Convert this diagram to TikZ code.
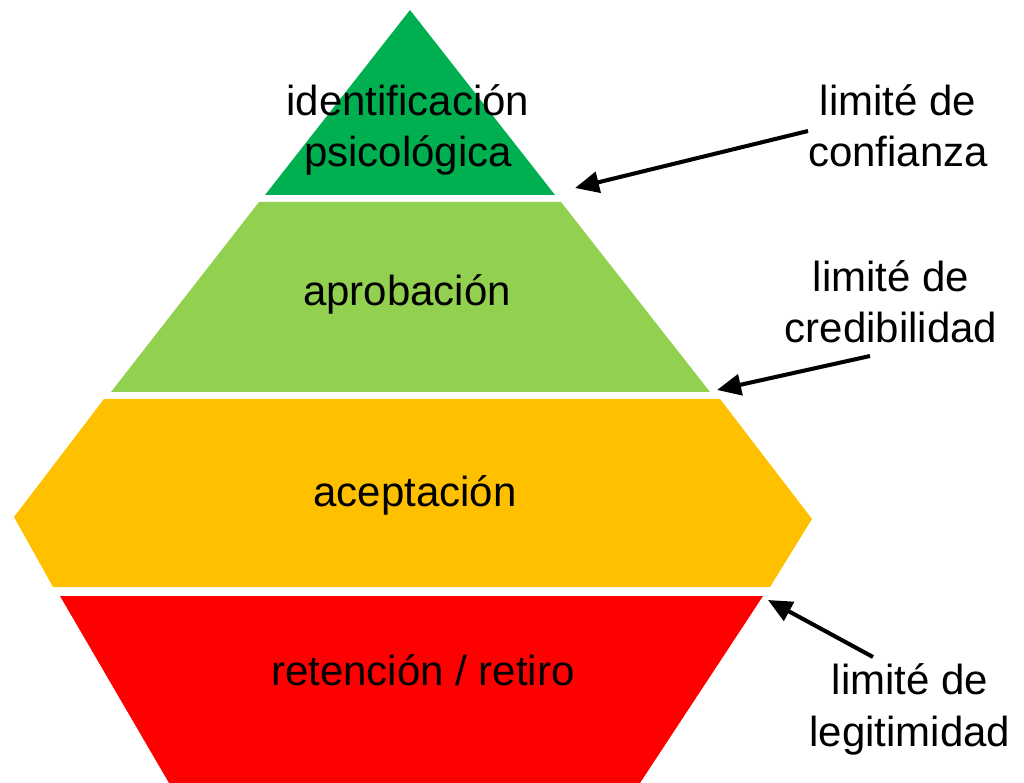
\documentclass[tikz,border=0pt]{standalone}
\usepackage{fontspec}
\setmainfont{Liberation Sans}
\usetikzlibrary{arrows.meta}

\definecolor{topgreen}{HTML}{00B050}
\definecolor{lightgreen}{HTML}{92D050}
\definecolor{amber}{HTML}{FFC000}
\definecolor{brightred}{HTML}{FF0000}

\begin{document}
\begin{tikzpicture}[x=0.02cm,y=-0.02cm,
  lbl/.style={font=\fontsize{23.9}{29.5}\selectfont, inner sep=0pt, align=center, anchor=base},
  pointer/.style={line width=2.3pt, -{Triangle[length=0.48cm,width=0.42cm]}}]
\useasboundingbox (0,0) rectangle (1024,783);
% bands of the pyramid
\fill[topgreen] (410,10) -- (555,195) -- (265,195) -- cycle;
\fill[lightgreen] (259,202) -- (561,202) -- (710,392) -- (111,392) -- cycle;
\fill[amber] (104,399) -- (720,399) -- (812,519) -- (770,587) -- (53,587) -- (14,517) -- cycle;
\fill[brightred] (60,596) -- (763,596) -- (640,783) -- (169,783) -- cycle;
% level names
\node[lbl] (ident) at (408,167) {identificación\\psicológica};
\node[lbl] (aprob) at (407,306) {aprobación};
\node[lbl] (acept) at (415,506) {aceptación};
\node[lbl] (reten) at (423,685) {retención / retiro};
% limits
\node[lbl] (conf) at (898,167) {limité de\\confianza};
\node[lbl] (cred) at (891,343) {limité de\\credibilidad};
\node[lbl] (legit) at (910,746) {limité de\\legitimidad};
\coordinate (conftail) at (808,131);
\coordinate (conftip) at (575,188);
\coordinate (credtail) at (870,356);
\coordinate (credtip) at (717,390);
\coordinate (legittail) at (873,657);
\coordinate (legittip) at (768,600);
\draw[pointer] (conftail) -- (conftip);
\draw[pointer] (credtail) -- (credtip);
\draw[pointer] (legittail) -- (legittip);
\end{tikzpicture}
\end{document}
